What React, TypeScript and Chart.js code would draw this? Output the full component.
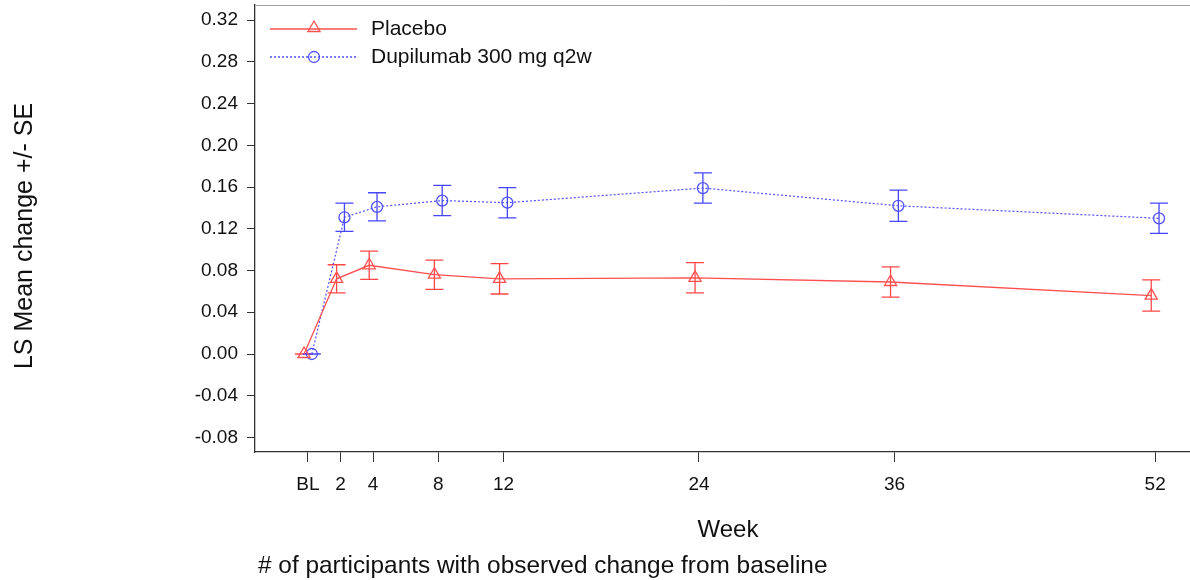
import React, { useEffect, useRef } from 'react';
import { Chart, registerables } from 'chart.js';

Chart.register(...registerables);

const WEEKS = [0, 2, 4, 8, 12, 24, 36, 52];
const X_TICK_LABELS = ['BL', '2', '4', '8', '12', '24', '36', '52'];
const Y_TICKS = [-0.08, -0.04, 0, 0.04, 0.08, 0.12, 0.16, 0.2, 0.24, 0.28, 0.32];
const SERIES_NAMES = ['Placebo', 'Dupilumab 300 mg q2w'];
const PLACEBO_MEAN = [0, 0.072, 0.085, 0.076, 0.072, 0.073, 0.069, 0.056];
const PLACEBO_SE = [0, 0.0135, 0.0135, 0.014, 0.0145, 0.0145, 0.0145, 0.015];
const DUPI_MEAN = [0, 0.131, 0.141, 0.147, 0.145, 0.159, 0.142, 0.13];
const DUPI_SE = [0, 0.0135, 0.0135, 0.0145, 0.0145, 0.0145, 0.015, 0.0145];
const JITTER = 0.24;

const Y_TITLE = 'LS Mean change +/- SE';
const X_TITLE = 'Week';
const FOOTNOTE = '# of participants with observed change from baseline';

const RED = 'rgb(255,80,80)';
const BLUE = 'rgb(80,80,255)';
const FONT = "'Liberation Sans', Arial, sans-serif";

function drawTriangle(ctx: CanvasRenderingContext2D, x: number, y: number, r: number) {
  ctx.beginPath();
  ctx.moveTo(x, y - r);
  ctx.lineTo(x + r * 0.866, y + r * 0.5);
  ctx.lineTo(x - r * 0.866, y + r * 0.5);
  ctx.closePath();
  ctx.stroke();
}

const decorPlugin = {
  id: 'decor',
  beforeDatasetsDraw(chart: any) {
    const ctx = chart.ctx;
    const yScale = chart.scales.y;
    chart.data.datasets.forEach((ds: any, di: number) => {
      const meta = chart.getDatasetMeta(di);
      ctx.save();
      ctx.strokeStyle = ds.barColor;
      ctx.lineWidth = 1.3;
      meta.data.forEach((el: any, i: number) => {
        const m = ds.data[i].y;
        const se = ds.se[i];
        const x = el.x;
        const yt = yScale.getPixelForValue(m + se);
        const yb = yScale.getPixelForValue(m - se);
        ctx.beginPath();
        ctx.moveTo(x, yt);
        ctx.lineTo(x, yb);
        ctx.moveTo(x - 9, yt);
        ctx.lineTo(x + 9, yt);
        ctx.moveTo(x - 9, yb);
        ctx.lineTo(x + 9, yb);
        ctx.stroke();
      });
      ctx.restore();
    });
  },
  afterDraw(chart: any) {
    const ctx = chart.ctx;
    const area = chart.chartArea;
    ctx.save();
    ctx.strokeStyle = '#a0a0a0';
    ctx.lineWidth = 1;
    ctx.beginPath();
    ctx.moveTo(area.left, area.top + 0.5);
    ctx.lineTo(area.right, area.top + 0.5);
    ctx.stroke();

    const lx0 = area.left + 15;
    const lx1 = area.left + 102;
    const lmx = area.left + 59;
    const ltx = area.left + 116;
    const rows = [area.top + 24, area.top + 52];
    ctx.strokeStyle = RED;
    ctx.lineWidth = 1.3;
    ctx.setLineDash([]);
    ctx.beginPath();
    ctx.moveTo(lx0, rows[0]);
    ctx.lineTo(lx1, rows[0]);
    ctx.stroke();
    drawTriangle(ctx, lmx, rows[0] - 1, 7);
    ctx.strokeStyle = BLUE;
    ctx.setLineDash([2, 2]);
    ctx.beginPath();
    ctx.moveTo(lx0, rows[1]);
    ctx.lineTo(lx1, rows[1]);
    ctx.stroke();
    ctx.setLineDash([]);
    ctx.beginPath();
    ctx.arc(lmx, rows[1], 5.5, 0, Math.PI * 2);
    ctx.stroke();

    ctx.fillStyle = '#111';
    ctx.font = `21px ${FONT}`;
    ctx.textAlign = 'left';
    ctx.textBaseline = 'middle';
    ctx.fillText(SERIES_NAMES[0], ltx, rows[0]);
    ctx.fillText(SERIES_NAMES[1], ltx, rows[1]);

    ctx.save();
    ctx.translate(25, 236);
    ctx.rotate(-Math.PI / 2);
    ctx.font = `25px ${FONT}`;
    ctx.textAlign = 'center';
    ctx.textBaseline = 'middle';
    ctx.fillText(Y_TITLE, 0, 0);
    ctx.restore();

    ctx.font = `24px ${FONT}`;
    ctx.textAlign = 'center';
    ctx.textBaseline = 'middle';
    ctx.fillText(X_TITLE, 728, 530);

    ctx.font = `24.4px ${FONT}`;
    ctx.textAlign = 'left';
    ctx.fillText(FOOTNOTE, 258, 566);
    ctx.restore();
  },
};

export default function App() {
  const ref = useRef<HTMLCanvasElement | null>(null);

  useEffect(() => {
    document.body.style.margin = '0';
    const canvas = ref.current;
    if (!canvas) return;
    const chart = new Chart(canvas, {
      type: 'line',
      data: {
        datasets: [
          {
            label: SERIES_NAMES[0],
            data: WEEKS.map((w, i) => ({ x: w - JITTER, y: PLACEBO_MEAN[i] })),
            borderColor: RED,
            borderWidth: 1.3,
            pointStyle: 'triangle',
            pointRadius: 7,
            pointBorderColor: RED,
            pointBackgroundColor: 'rgba(0,0,0,0)',
            pointBorderWidth: 1.3,
            tension: 0,
            se: PLACEBO_SE,
            barColor: 'rgb(255,70,70)',
          } as any,
          {
            label: SERIES_NAMES[1],
            data: WEEKS.map((w, i) => ({ x: w + JITTER, y: DUPI_MEAN[i] })),
            borderColor: BLUE,
            borderWidth: 1.2,
            borderDash: [2, 2],
            pointStyle: 'circle',
            pointRadius: 5.5,
            pointBorderColor: BLUE,
            pointBackgroundColor: 'rgba(0,0,0,0)',
            pointBorderWidth: 1.3,
            tension: 0,
            se: DUPI_SE,
            barColor: 'rgb(70,70,255)',
          } as any,
        ],
      },
      options: {
        responsive: false,
        animation: false,
        devicePixelRatio: 1,
        layout: { autoPadding: false, padding: { top: 5, left: 0, right: 0, bottom: 0 } },
        plugins: { legend: { display: false }, tooltip: { enabled: false } },
        scales: {
          x: {
            type: 'linear',
            min: -3.25,
            max: 54.14,
            afterBuildTicks: (s: any) => {
              s.ticks = WEEKS.map((v) => ({ value: v }));
            },
            afterFit: (s: any) => {
              s.height = 128;
              s.paddingLeft = 0;
              s.paddingRight = 0;
              s.paddingTop = 0;
              s.paddingBottom = 0;
            },
            ticks: {
              autoSkip: false,
              maxRotation: 0,
              padding: 11,
              color: '#111',
              font: { family: FONT, size: 19 },
              callback: (v: any) => {
                const idx = WEEKS.indexOf(Number(v));
                return idx >= 0 ? X_TICK_LABELS[idx] : '';
              },
            },
            grid: { drawOnChartArea: false, drawTicks: true, tickLength: 10, color: '#333' },
            border: { color: '#333', width: 1.3 },
          },
          y: {
            type: 'linear',
            min: -0.0939,
            max: 0.3344,
            afterBuildTicks: (s: any) => {
              s.ticks = Y_TICKS.map((v) => ({ value: v }));
            },
            afterFit: (s: any) => {
              s.width = 255;
              s.paddingLeft = 0;
              s.paddingRight = 0;
              s.paddingTop = 0;
              s.paddingBottom = 0;
            },
            ticks: {
              padding: 9,
              color: '#111',
              font: { family: FONT, size: 19 },
              callback: (v: any) => Number(v).toFixed(2),
            },
            grid: { drawOnChartArea: false, drawTicks: true, tickLength: 8, color: '#333' },
            border: { color: '#333', width: 1.3 },
          },
        },
      } as any,
      plugins: [decorPlugin],
    });
    return () => chart.destroy();
  }, []);

  return (
    <div style={{ width: 1190, height: 580 }}>
      <canvas ref={ref} width={1190} height={580} style={{ display: 'block' }} />
    </div>
  );
}
